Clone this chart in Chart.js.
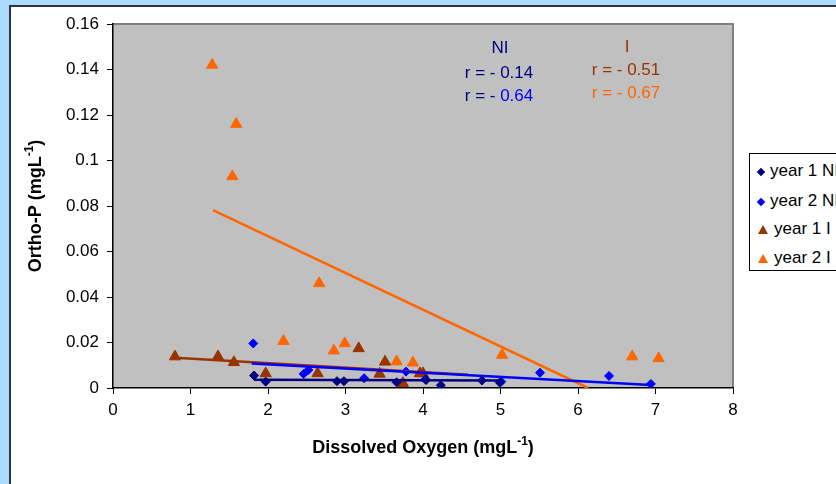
<!DOCTYPE html>
<html>
<head>
  <title>Ortho-P vs Dissolved Oxygen</title>
  <script src="https://cdn.jsdelivr.net/npm/chart.js"></script>
  <style>
    body { margin: 0; width: 836px; height: 484px; overflow: hidden; background: #abdbff; font-family: "Liberation Sans", Arial, sans-serif; }
    #panel { position: absolute; left: 9px; top: 5px; width: 900px; height: 600px; background: #fff; border-left: 2px solid #2c3642; border-top: 2px solid #2c3642; }
    #wrap { position: absolute; left: 0; top: 0; width: 836px; height: 484px; }
    .note { position: absolute; transform: translate(-50%, -50%); font-size: 17px; white-space: nowrap; }
    #legend { position: absolute; left: 749px; top: 153px; width: 160px; height: 116px; border: 1px solid #000; background: #fff; font-size: 17px; }
    #legend .item { position: absolute; left: 8px; white-space: nowrap; transform: translateY(-50%); }
    #legend .mk { display: inline-block; margin-right: 6px; vertical-align: middle; }
    .dia { width: 6px; height: 6px; transform: rotate(45deg); }
    .tri { width: 0; height: 0; border-left: 5px solid transparent; border-right: 5px solid transparent; border-bottom: 9px solid; }
  </style>
</head>
<body>
  <div id="panel"></div>
  <div id="wrap"><canvas id="chart" width="836" height="484"></canvas></div>

  <div class="note" style="left:500px; top:48px; color:#000080">NI</div>
  <div class="note" style="left:499px; top:73px; color:#000080">r = - 0.14</div>
  <div class="note" style="left:499px; top:96px; color:#000080">r = - <span style="color:#0000ff">0.64</span></div>
  <div class="note" style="left:627px; top:47px; color:#993300">I</div>
  <div class="note" style="left:626px; top:70px; color:#993300">r = - 0.51</div>
  <div class="note" style="left:626px; top:93px; color:#ff6600">r = - 0.67</div>

  <div id="legend"></div>

  <script>
    // series labels and colours
    const seriesNames = ['year 1 NI', 'year 2 NI', 'year 1 I', 'year 2 I'];
    const seriesColors = ['#000080', '#0000ff', '#993300', '#ff6600'];

    // dissolved oxygen (x) and ortho-P (y)
    const y1NI_x = [1.82, 1.97, 2.89, 2.98, 3.66, 4.04, 4.23, 4.76, 4.99];
    const y1NI_y = [0.0055, 0.0028, 0.0030, 0.0030, 0.0025, 0.0035, 0.0012, 0.0033, 0.0024];

    const y2NI_x = [1.81, 2.46, 2.52, 3.24, 3.78, 4.03, 5.01, 5.51, 6.40, 6.94];
    const y2NI_y = [0.0196, 0.0062, 0.0079, 0.0043, 0.0072, 0.0038, 0.0028, 0.0067, 0.0053, 0.0018];

    const y1I_x = [0.80, 1.355, 1.56, 1.97, 2.64, 3.17, 3.51, 3.44, 3.74, 3.96, 4.00];
    const y1I_y = [0.0138, 0.0138, 0.0113, 0.0064, 0.0064, 0.0174, 0.0115, 0.0062, 0.0021, 0.0064, 0.0064];

    const y2I_x = [1.28, 1.59, 1.54, 2.66, 2.20, 2.85, 2.99, 3.66, 3.87, 5.02, 6.70, 7.04];
    const y2I_y = [0.142, 0.116, 0.093, 0.046, 0.0206, 0.0164, 0.0196, 0.0116, 0.0111, 0.0145, 0.0138, 0.0130];

    // linear trendline end points
    const trend1NI_x = [1.82, 5.00];
    const trend1NI_y = [0.0036, 0.0033];
    const trend2NI_x = [1.79, 6.94];
    const trend2NI_y = [0.0108, 0.0013];
    const trend1I_x = [0.80, 4.58];
    const trend1I_y = [0.0133, 0.0058];
    const trend2I_x = [1.29, 6.13];
    const trend2I_y = [0.0782, 0.0];

    const yTickLabels = ['0', '0.02', '0.04', '0.06', '0.08', '0.1', '0.12', '0.14', '0.16'];
    const xTickLabels = ['0', '1', '2', '3', '4', '5', '6', '7', '8'];

    // axis titles: [main text, superscript, closing text]
    const xTitle = ['Dissolved Oxygen (mgL', '-1', ')'];
    const yTitle = ['Ortho-P (mgL', '-1', ')'];

    const pts = (xs, ys) => xs.map((x, i) => ({ x: x, y: ys[i] }));

    const pointSets = [[y1NI_x, y1NI_y], [y2NI_x, y2NI_y], [y1I_x, y1I_y], [y2I_x, y2I_y]];
    const trendSets = [[trend1NI_x, trend1NI_y], [trend2NI_x, trend2NI_y], [trend1I_x, trend1I_y], [trend2I_x, trend2I_y]];

    const datasets = [];
    trendSets.forEach((s, i) => {
      datasets.push({
        label: seriesNames[i] + ' trend',
        data: pts(s[0], s[1]),
        showLine: true,
        borderColor: seriesColors[i],
        borderWidth: 2.5,
        pointRadius: 0,
        order: 1
      });
    });
    pointSets.forEach((s, i) => {
      const isTri = i >= 2;
      datasets.push({
        label: seriesNames[i],
        data: pts(s[0], s[1]),
        showLine: false,
        pointStyle: isTri ? 'triangle' : 'rectRot',
        pointRadius: isTri ? 6.5 : 4.5,
        pointHoverRadius: isTri ? 6.5 : 4.5,
        backgroundColor: seriesColors[i],
        borderColor: seriesColors[i],
        borderWidth: 1,
        order: 2
      });
    });

    const FONT = '"Liberation Sans", Arial, sans-serif';

    // grey plot area with a darker top/right frame
    const plotBg = {
      id: 'plotBg',
      beforeDraw(chart) {
        const { ctx, chartArea: a } = chart;
        ctx.save();
        ctx.fillStyle = '#c0c0c0';
        ctx.fillRect(a.left, a.top, a.right - a.left, a.bottom - a.top);
        ctx.strokeStyle = '#808080';
        ctx.lineWidth = 2;
        ctx.beginPath();
        ctx.moveTo(a.left, a.top);
        ctx.lineTo(a.right, a.top);
        ctx.lineTo(a.right, a.bottom);
        ctx.stroke();
        ctx.restore();
      }
    };

    // axis titles with a real superscript
    function drawSupText(ctx, parts, cx, cy) {
      const main = 'bold 18px ' + FONT;
      const sup = 'bold 12px ' + FONT;
      ctx.font = main;
      const w0 = ctx.measureText(parts[0]).width;
      const w2 = ctx.measureText(parts[2]).width;
      ctx.font = sup;
      const w1 = ctx.measureText(parts[1]).width;
      let x = cx - (w0 + w1 + w2) / 2;
      ctx.textAlign = 'left';
      ctx.textBaseline = 'middle';
      ctx.fillStyle = '#000';
      ctx.font = main;
      ctx.fillText(parts[0], x, cy);
      x += w0;
      ctx.font = sup;
      ctx.fillText(parts[1], x, cy - 6);
      x += w1;
      ctx.font = main;
      ctx.fillText(parts[2], x, cy);
    }

    const axisTitles = {
      id: 'axisTitles',
      afterDraw(chart) {
        const { ctx, chartArea: a } = chart;
        ctx.save();
        drawSupText(ctx, xTitle, (a.left + a.right) / 2, 448);
        ctx.translate(36, (a.top + a.bottom) / 2);
        ctx.rotate(-Math.PI / 2);
        drawSupText(ctx, yTitle, 0, 0);
        ctx.restore();
      }
    };

    const tickFont = { family: FONT, size: 17 };

    new Chart(document.getElementById('chart'), {
      type: 'scatter',
      data: { datasets: datasets },
      options: {
        responsive: false,
        animation: false,
        layout: { padding: { top: 24, right: 103, left: 0, bottom: 0 } },
        plugins: { legend: { display: false }, tooltip: { enabled: false } },
        scales: {
          x: {
            type: 'linear',
            min: 0,
            max: 8,
            ticks: { stepSize: 1, color: '#000', font: tickFont, padding: 6, callback: (v, i) => xTickLabels[i] },
            grid: { drawOnChartArea: false, drawTicks: true, tickLength: 6, color: '#000' },
            border: { color: '#000', width: 1.5 },
            afterFit(s) { s.height = 96; }
          },
          y: {
            min: 0,
            max: 0.16,
            ticks: { stepSize: 0.02, color: '#000', font: tickFont, padding: 8, callback: (v, i) => yTickLabels[i] },
            grid: { drawOnChartArea: false, drawTicks: true, tickLength: 6, color: '#000' },
            border: { color: '#000', width: 1.5 },
            afterFit(s) { s.width = 113; }
          }
        }
      },
      plugins: [plotBg, axisTitles]
    });

    // legend built from the series names
    const legend = document.getElementById('legend');
    const rowTops = [17, 47, 75, 104];
    seriesNames.forEach((name, i) => {
      const row = document.createElement('div');
      row.className = 'item';
      row.style.top = rowTops[i] + 'px';
      const mk = document.createElement('span');
      if (i < 2) {
        mk.className = 'mk dia';
        mk.style.background = seriesColors[i];
      } else {
        mk.className = 'mk tri';
        mk.style.borderBottomColor = seriesColors[i];
      }
      row.appendChild(mk);
      row.appendChild(document.createTextNode(name));
      legend.appendChild(row);
    });
  </script>
</body>
</html>
